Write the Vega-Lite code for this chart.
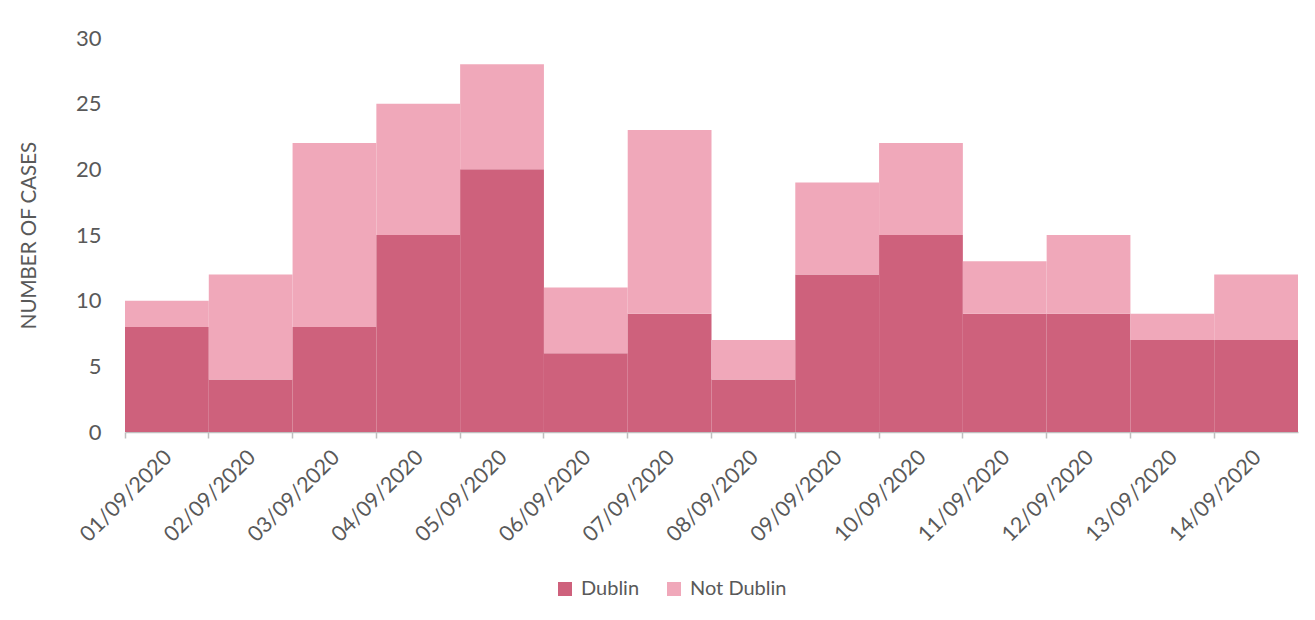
{
  "$schema": "https://vega.github.io/schema/vega-lite/v6.json",
  "autosize": {"type": "none"},
  "width": 1173,
  "height": 394,
  "padding": {"left": 125, "top": 38, "right": 17, "bottom": 188},
  "background": "white",
  "data": {"values": [
    {"date": "01/09/2020", "area": "Dublin", "cases": 8},
    {"date": "01/09/2020", "area": "Not Dublin", "cases": 2},
    {"date": "02/09/2020", "area": "Dublin", "cases": 4},
    {"date": "02/09/2020", "area": "Not Dublin", "cases": 8},
    {"date": "03/09/2020", "area": "Dublin", "cases": 8},
    {"date": "03/09/2020", "area": "Not Dublin", "cases": 14},
    {"date": "04/09/2020", "area": "Dublin", "cases": 15},
    {"date": "04/09/2020", "area": "Not Dublin", "cases": 10},
    {"date": "05/09/2020", "area": "Dublin", "cases": 20},
    {"date": "05/09/2020", "area": "Not Dublin", "cases": 8},
    {"date": "06/09/2020", "area": "Dublin", "cases": 6},
    {"date": "06/09/2020", "area": "Not Dublin", "cases": 5},
    {"date": "07/09/2020", "area": "Dublin", "cases": 9},
    {"date": "07/09/2020", "area": "Not Dublin", "cases": 14},
    {"date": "08/09/2020", "area": "Dublin", "cases": 4},
    {"date": "08/09/2020", "area": "Not Dublin", "cases": 3},
    {"date": "09/09/2020", "area": "Dublin", "cases": 12},
    {"date": "09/09/2020", "area": "Not Dublin", "cases": 7},
    {"date": "10/09/2020", "area": "Dublin", "cases": 15},
    {"date": "10/09/2020", "area": "Not Dublin", "cases": 7},
    {"date": "11/09/2020", "area": "Dublin", "cases": 9},
    {"date": "11/09/2020", "area": "Not Dublin", "cases": 4},
    {"date": "12/09/2020", "area": "Dublin", "cases": 9},
    {"date": "12/09/2020", "area": "Not Dublin", "cases": 6},
    {"date": "13/09/2020", "area": "Dublin", "cases": 7},
    {"date": "13/09/2020", "area": "Not Dublin", "cases": 2},
    {"date": "14/09/2020", "area": "Dublin", "cases": 7},
    {"date": "14/09/2020", "area": "Not Dublin", "cases": 5}
  ]},
  "mark": {"type": "bar", "strokeWidth": 0},
  "encoding": {
    "x": {
      "field": "date", "type": "ordinal", "sort": null,
      "scale": {"paddingInner": 0, "paddingOuter": 0},
      "axis": {
        "title": null,
        "labelAngle": -45,
        "labelAlign": "right",
        "labelBaseline": "middle",
        "bandPosition": 0,
        "labelOffset": 2,
        "labelPadding": 16,
        "labelFont": "Lato",
        "labelFontSize": 21.5,
        "labelColor": "#595959",
        "tickColor": "#bfbfbf",
        "tickSize": 6,
        "tickWidth": 1.5,
        "domainColor": "#bfbfbf",
        "domainWidth": 1.5,
        "grid": false
      }
    },
    "y": {
      "field": "cases", "type": "quantitative", "aggregate": "sum",
      "scale": {"domain": [0, 30]},
      "axis": {
        "title": "NUMBER OF CASES",
        "titleFont": "Lato",
        "titleFontSize": 20.5,
        "titleFontWeight": "normal",
        "titleColor": "#595959",
        "titlePadding": 36,
        "values": [0, 5, 10, 15, 20, 25, 30],
        "labelFont": "Lato",
        "labelFontSize": 22,
        "labelColor": "#595959",
        "labelPadding": 24,
        "ticks": false,
        "domain": false,
        "grid": false
      }
    },
    "color": {
      "field": "area", "type": "nominal",
      "scale": {"domain": ["Dublin", "Not Dublin"], "range": ["#ce617c", "#f0a8ba"]},
      "legend": {
        "title": null,
        "orient": "none",
        "legendX": 430,
        "legendY": 541,
        "direction": "horizontal",
        "symbolType": "square",
        "symbolSize": 196,
        "symbolStrokeWidth": 0,
        "symbolOpacity": 1,
        "labelFont": "Lato",
        "labelFontSize": 20,
        "labelColor": "#595959",
        "labelOffset": 6,
        "columnPadding": 24
      }
    },
    "order": {"field": "area", "sort": "ascending"}
  },
  "config": {"view": {"stroke": null}}
}
